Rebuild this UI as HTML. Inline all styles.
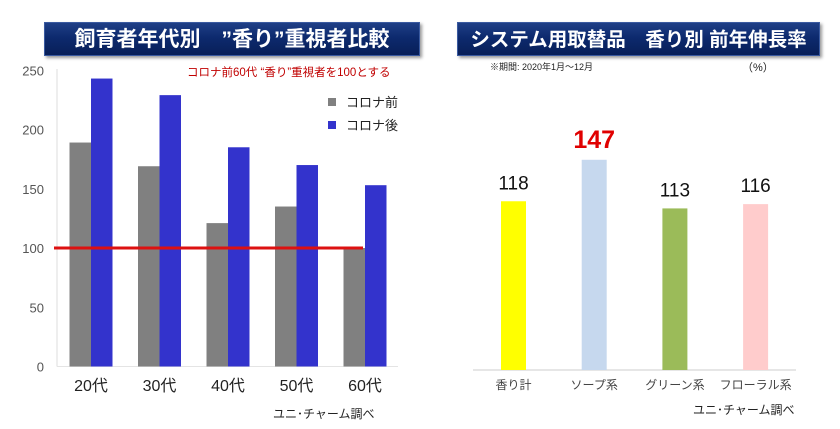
<!DOCTYPE html>
<html><head><meta charset="utf-8">
<style>
body{margin:0;width:840px;height:429px;background:#fff;overflow:hidden;font-family:"Liberation Sans","Noto Sans CJK JP",sans-serif;}
.banner{position:absolute;top:22px;height:34px;background:linear-gradient(#1f3f86,#0d2a6e 45%,#081f58);color:#fff;font-weight:bold;font-size:21px;line-height:34px;text-align:center;box-shadow:2px 2px 3px #999;border:1px solid #3a5aa0;box-sizing:border-box;white-space:nowrap;overflow:hidden;}
svg{position:absolute;left:0;top:0;}
</style></head><body>
<div class="banner" style="left:44px;width:376px;">飼育者年代別　”香り”重視者比較</div>
<div class="banner" style="left:457px;width:363px;font-size:19.5px;">システム用取替品　香り別 前年伸長率</div>
<svg width="840" height="429" id="svg"></svg>
<script>
const ageCats=["20代","30代","40代","50代","60代"];
const beforeVals=[189,169,121,135,100];
const afterVals=[243,229,185,170,153];
const yTicks=[0,50,100,150,200,250];
const refValue=100;
const scentCats=["香り計","ソープ系","グリーン系","フローラル系"];
const scentVals=[118,147,113,116];
const scentColors=["#ffff00","#c6d8ee","#9bbb59","#ffcccc"];

const NS="http://www.w3.org/2000/svg";
const svg=document.getElementById('svg');
function mk(tag,attrs,text){const e=document.createElementNS(NS,tag);for(const k in attrs)e.setAttribute(k,attrs[k]);if(text!==undefined)e.textContent=text;svg.appendChild(e);return e;}
const y0=366.5,ppu=1.185;
const yL=v=>y0-v*ppu;
const xL=i=>91+i*68.5;
let ax=mk('line',{x1:57,y1:69,x2:57,y2:y0,stroke:'#ddd','stroke-width':1});

let bl=mk('line',{x1:57,y1:y0,x2:398,y2:y0,stroke:'#e4e4e4','stroke-width':1});

yTicks.forEach(t=>{const e=mk('text',{x:44,y:yL(t)+5,'text-anchor':'end','font-size':13,fill:'#555'},String(t));
});
ageCats.forEach((c,i)=>{
 const g=mk('rect',{x:xL(i)-21.5,y:yL(beforeVals[i]),width:21.5,height:beforeVals[i]*ppu,fill:'#808080'});
 
 const b=mk('rect',{x:xL(i),y:yL(afterVals[i]),width:21.5,height:afterVals[i]*ppu,fill:'#3333cc'});
 
 const t=mk('text',{x:xL(i),y:391,'text-anchor':'middle','font-size':16,fill:'#222'},c);
 
});
const rl=mk('line',{x1:54,y1:yL(refValue),x2:363,y2:yL(refValue),stroke:'#dd1111','stroke-width':3});

let n=mk('text',{x:187,y:76,'font-size':11.5,fill:'#c00000'},'コロナ前60代 “香り”重視者を100とする');

let lg1=mk('rect',{x:328,y:98,width:8,height:8,fill:'#808080'});
let lt1=mk('text',{x:346,y:107,'font-size':13,fill:'#222'},'コロナ前');
let lg2=mk('rect',{x:328,y:121,width:8,height:8,fill:'#3333cc'});
let lt2=mk('text',{x:346,y:130,'font-size':13,fill:'#222'},'コロナ後');
let s1=mk('text',{x:273,y:418,'font-size':12,fill:'#222'},'ユニ･チャーム調べ');

const r0=370,rpu=1.43;
const yR=v=>r0-v*rpu;
const xR=i=>513.5+i*80.7;
let rb=mk('line',{x1:473,y1:r0,x2:796,y2:r0,stroke:'#ddd','stroke-width':1.5});

scentCats.forEach((c,i)=>{
 const r=mk('rect',{x:xR(i)-12.5,y:yR(scentVals[i]),width:25,height:scentVals[i]*rpu,fill:scentColors[i]});
 
 const big=scentVals[i]===Math.max(...scentVals);
 const v=mk('text',{x:xR(i),y:yR(scentVals[i])-12,'text-anchor':'middle','font-size':big?25:19,'font-weight':big?'bold':'normal',fill:big?'#e00000':'#111'},String(scentVals[i]));
 
 const t=mk('text',{x:xR(i),y:389,'text-anchor':'middle','font-size':12,fill:'#444'},c);
 
});
let pn=mk('text',{x:490,y:70,'font-size':9,fill:'#222'},'※期間: 2020年1月～12月');
let pc=mk('text',{x:742,y:71,'font-size':11,fill:'#222'},'（%）');
let s2=mk('text',{x:693,y:414,'font-size':12,fill:'#222'},'ユニ･チャーム調べ');
</script>
</body></html>
